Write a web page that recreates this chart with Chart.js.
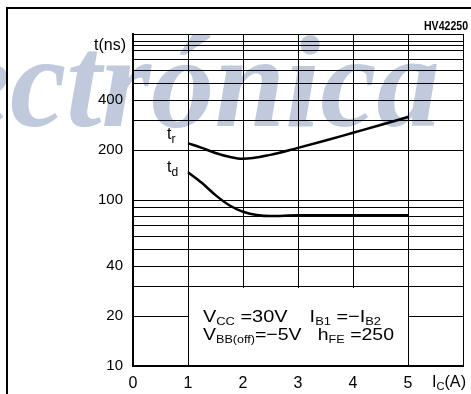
<!DOCTYPE html>
<html>
<head>
<meta charset="utf-8">
<script src="https://cdn.jsdelivr.net/npm/chart.js@4/dist/chart.umd.min.js"></script>
<style>
html,body{margin:0;padding:0;background:#fff;}
#wrap{width:471px;height:394px;position:relative;}
</style>
</head>
<body>
<div id="wrap"><canvas id="c" width="471" height="394"></canvas></div>
<script>
// ---- data ----
const collectorCurrent = [1, 1.25, 1.5, 1.75, 2, 2.5, 3, 3.5, 4, 4.5, 5];
const riseTime  = [220, 206, 192, 182, 177, 187, 206, 228, 254, 283, 316];
const delayTime = [147, 127, 107, 93, 85, 80, 81, 81, 81, 81, 81];
const xTickValues = [0, 1, 2, 3, 4, 5, 6];
const xTickLabels = ['0', '1', '2', '3', '4', '5', ''];
const yGridValues = [10, 20, 30, 40, 50, 60, 70, 80, 90, 100, 200, 300, 400, 500, 600, 700, 800, 850, 900, 1000];
const yTickLabels = [10, 20, 40, 100, 200, 400];
const seriesNames = ['tr', 'td'];
const boxRange = {x0: 1, x1: 5, y0: 10, y1: 30};

const FONT = '"Liberation Sans", Arial, sans-serif';

function runsWidth(ctx, runs, size, subSize) {
  let w = 0;
  for (const r of runs) {
    ctx.font = (r.sub ? subSize : size) + 'px ' + FONT;
    w += ctx.measureText(r.t).width;
  }
  return w;
}
function drawRuns(ctx, x, y, runs, size, subSize, subDy, targetW) {
  ctx.save();
  ctx.textAlign = 'left';
  ctx.textBaseline = 'alphabetic';
  let sx = 1;
  if (targetW) sx = targetW / runsWidth(ctx, runs, size, subSize);
  ctx.translate(x, y);
  ctx.scale(sx, 1);
  let cx = 0;
  for (const r of runs) {
    ctx.font = (r.sub ? subSize : size) + 'px ' + FONT;
    ctx.fillText(r.t, cx, r.sub ? subDy : 0);
    cx += ctx.measureText(r.t).width;
  }
  ctx.restore();
}

const decorPlugin = {
  id: 'decor',
  beforeDraw(chart) {
    const ctx = chart.ctx;
    ctx.save();
    ctx.fillStyle = '#fff';
    ctx.fillRect(0, 0, chart.width, chart.height);
    // watermark
    ctx.font = 'italic bold 132px "Liberation Serif", serif';
    const we = ctx.measureText('e').width;
    const W = ctx.measureText('ectrónica').width;
    const s = 430 / (W - we);
    ctx.translate(10 - s * we, 0);
    ctx.scale(s, 1);
    ctx.fillStyle = 'rgb(192,202,220)';
    ctx.textBaseline = 'alphabetic';
    ctx.textAlign = 'left';
    ctx.fillText('ectrónica', 0, 126);
    ctx.restore();
    // outer frame
    ctx.save();
    ctx.fillStyle = '#000';
    ctx.fillRect(6, 7, chart.width - 6, 2);
    ctx.fillRect(6, 7, 2, chart.height - 7);
    ctx.restore();
  },
  beforeDatasetsDraw(chart) {
    const ctx = chart.ctx;
    const xs = chart.scales.x, ys = chart.scales.y;
    const x0 = Math.round(xs.getPixelForValue(boxRange.x0));
    const x1 = Math.round(xs.getPixelForValue(boxRange.x1));
    const y0 = Math.round(ys.getPixelForValue(boxRange.y0));
    const y1 = Math.round(ys.getPixelForValue(boxRange.y1));
    ctx.save();
    ctx.fillStyle = '#fff';
    ctx.fillRect(x0 + 1, y1 + 1, x1 - x0 - 1, y0 - y1 - 2);
    ctx.fillStyle = '#000';
    drawRuns(ctx, x0 + 15, y1 + 35, [
      {t: 'V'}, {t: 'CC', sub: true}, {t: ' =30V    I'}, {t: 'B1', sub: true}, {t: ' =\u2212I'}, {t: 'B2', sub: true}
    ], 17, 11, 3, 178);
    drawRuns(ctx, x0 + 15, y1 + 53, [
      {t: 'V'}, {t: 'BB(off)', sub: true}, {t: '=\u22125V   h'}, {t: 'FE', sub: true}, {t: ' =250'}
    ], 17, 11, 3, 191);
    ctx.restore();
  },
  afterDraw(chart) {
    const ctx = chart.ctx;
    const xs = chart.scales.x, ys = chart.scales.y;
    ctx.save();
    ctx.fillStyle = '#000';
    ctx.font = '16px ' + FONT;
    ctx.textAlign = 'right';
    ctx.textBaseline = 'alphabetic';
    ctx.fillText('t(ns)', chart.chartArea.left - 7, 50);
    drawRuns(ctx, 432, 387, [{t: 'I'}, {t: 'C', sub: true}, {t: '(A)'}], 16, 11, 3, 34);
    ctx.font = 'bold 13px ' + FONT;
    ctx.textAlign = 'right';
    ctx.fillText('HV42250', 468, 30, 44);
    const lx = xs.getPixelForValue(collectorCurrent[0]) - 21;
    const yr = ys.getPixelForValue(riseTime[0]) - 4;
    const yd = ys.getPixelForValue(delayTime[0]);
    drawRuns(ctx, lx, yr, [{t: 't'}, {t: seriesNames[0].slice(1), sub: true}], 16, 12, 4);
    drawRuns(ctx, lx, yd, [{t: 't'}, {t: seriesNames[1].slice(1), sub: true}], 16, 12, 4);
    ctx.restore();
  }
};

new Chart(document.getElementById('c'), {
  type: 'scatter',
  data: {
    datasets: [
      {label: seriesNames[0], data: collectorCurrent.map((x, i) => ({x, y: riseTime[i]})),
       showLine: true, borderColor: '#000', borderWidth: 2.5, pointRadius: 0,
       cubicInterpolationMode: 'monotone'},
      {label: seriesNames[1], data: collectorCurrent.map((x, i) => ({x, y: delayTime[i]})),
       showLine: true, borderColor: '#000', borderWidth: 2.5, pointRadius: 0,
       cubicInterpolationMode: 'monotone'}
    ]
  },
  options: {
    responsive: false,
    animation: false,
    devicePixelRatio: 1,
    layout: {padding: {top: 34, right: 5, left: 0, bottom: 0}},
    plugins: {legend: {display: false}, tooltip: {enabled: false}},
    scales: {
      x: {
        type: 'linear', min: 0, max: 6,
        afterBuildTicks(axis) { axis.ticks = xTickValues.map(v => ({value: v})); },
        afterFit(axis) { axis.height = 28; },
        ticks: {
          autoSkip: false, maxRotation: 0, padding: 8, color: '#000',
          font: {family: FONT, size: 16},
          callback(v) { const i = xTickValues.indexOf(v); return i >= 0 ? xTickLabels[i] : ''; }
        },
        grid: {color: '#000', lineWidth: 1, drawTicks: false},
        border: {color: '#000', width: 2}
      },
      y: {
        type: 'logarithmic', min: 10, max: 1000,
        afterBuildTicks(axis) { axis.ticks = yGridValues.map(v => ({value: v})); },
        afterFit(axis) { axis.width = 133; },
        ticks: {
          autoSkip: false, padding: 10, color: '#000',
          font: {family: FONT, size: 15},
          callback(v) { return yTickLabels.includes(v) ? String(v) : ''; }
        },
        grid: {color: '#000', lineWidth: 1, drawTicks: false},
        border: {color: '#000', width: 2}
      }
    }
  },
  plugins: [decorPlugin]
});
</script>
</body>
</html>
